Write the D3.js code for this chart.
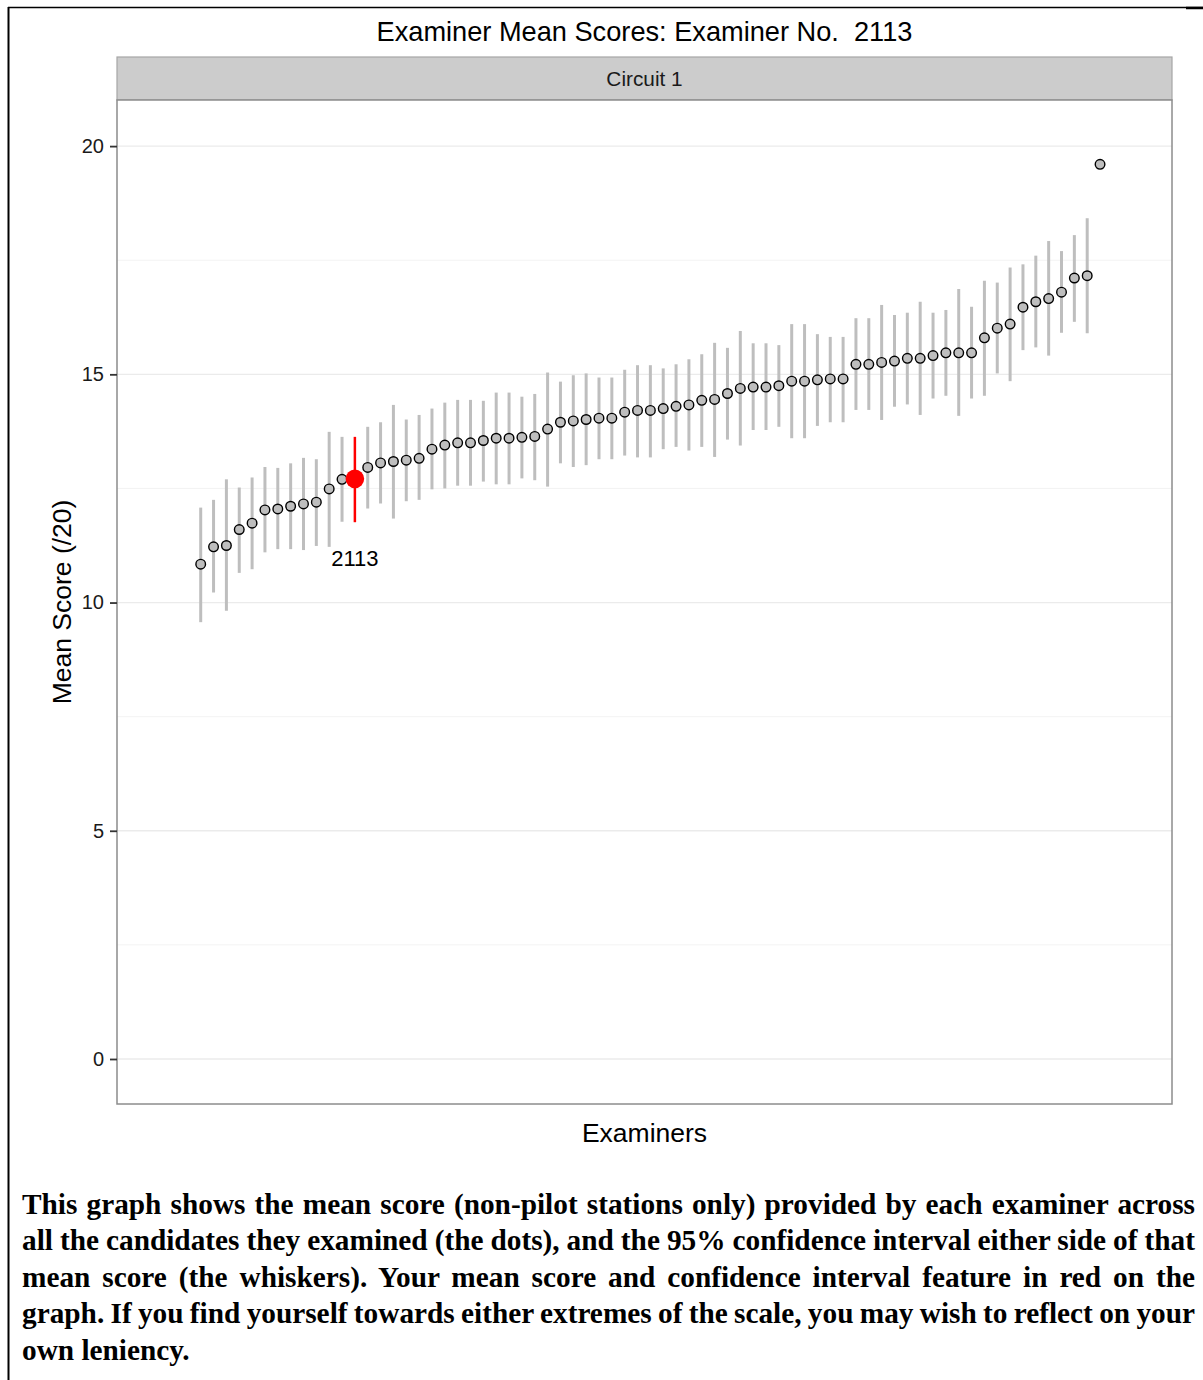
<!DOCTYPE html>
<html>
<head>
<meta charset="utf-8">
<script src="https://cdn.jsdelivr.net/npm/d3@7"></script>
<style>
  html, body { margin: 0; padding: 0; background: #fff; }
  #wrap { position: relative; width: 1203px; height: 1380px; overflow: hidden; }
  svg { position: absolute; left: 0; top: 0; }
  .para { position: absolute; left: 22px; width: 1173px; font-family: "Liberation Serif", "Times New Roman", serif;
          font-weight: bold; font-size: 29.3px; color: #000; white-space: nowrap; line-height: 36px;
          word-spacing: 0px; }
  .just { text-align: justify; text-align-last: justify; word-spacing: -3px; }
</style>
</head>
<body>
<div id="wrap"></div>
<script>
// ---- Data ----
const titleText = "Examiner Mean Scores: Examiner No.  2113";
const stripText = "Circuit 1";
const xTitle = "Examiners";
const yTitle = "Mean Score (/20)";
const highlightIndex = 12;
const highlightLabel = "2113";
const yTicks = [0, 5, 10, 15, 20];
const yMinor = [2.5, 7.5, 12.5, 17.5];

const means = [10.84, 11.22, 11.25, 11.60, 11.74, 12.03, 12.05, 12.11, 12.16, 12.20,
  12.49, 12.70, 12.71, 12.96, 13.06, 13.09, 13.12, 13.16, 13.36, 13.45,
  13.50, 13.50, 13.55, 13.60, 13.60, 13.62, 13.64, 13.80, 13.95, 13.98,
  14.01, 14.04, 14.04, 14.17, 14.21, 14.21, 14.25, 14.30, 14.33, 14.43,
  14.45, 14.58, 14.69, 14.72, 14.72, 14.75, 14.85, 14.85, 14.88, 14.90,
  14.90, 15.22, 15.22, 15.26, 15.29, 15.35, 15.35, 15.41, 15.47, 15.47,
  15.47, 15.80, 16.01, 16.10, 16.47, 16.59, 16.66, 16.80, 17.11, 17.16,
  19.60];
const lower = [9.57, 10.22, 9.82, 10.65, 10.73, 11.10, 11.17, 11.17, 11.15, 11.24,
  11.22, 11.77, 11.76, 12.06, 12.17, 11.84, 12.22, 12.25, 12.48, 12.50,
  12.56, 12.56, 12.65, 12.59, 12.59, 12.72, 12.68, 12.54, 13.05, 12.97,
  13.01, 13.14, 13.14, 13.22, 13.18, 13.18, 13.36, 13.41, 13.33, 13.41,
  13.19, 13.57, 13.44, 13.78, 13.78, 13.85, 13.60, 13.60, 13.87, 13.95,
  13.95, 14.22, 14.22, 14.00, 14.29, 14.34, 14.11, 14.47, 14.53, 14.09,
  14.47, 14.53, 15.02, 14.85, 15.53, 15.59, 15.41, 15.91, 16.15, 15.90,
  null];
const upper = [12.08, 12.25, 12.70, 12.52, 12.74, 12.97, 12.95, 13.05, 13.17, 13.14,
  13.74, 13.63, 13.63, 13.85, 13.95, 14.33, 14.01, 14.11, 14.25, 14.38,
  14.44, 14.44, 14.42, 14.60, 14.60, 14.51, 14.57, 15.04, 14.84, 14.98,
  15.02, 14.93, 14.93, 15.10, 15.20, 15.20, 15.13, 15.22, 15.33, 15.44,
  15.69, 15.58, 15.95, 15.68, 15.68, 15.64, 16.10, 16.10, 15.88, 15.82,
  15.82, 16.23, 16.23, 16.52, 16.30, 16.35, 16.59, 16.35, 16.41, 16.87,
  16.48, 17.05, 17.01, 17.34, 17.41, 17.60, 17.92, 17.70, 18.05, 18.42,
  null];

const paraLines = [
  "This graph shows the mean score (non-pilot stations only) provided by each examiner across",
  "all the candidates they examined (the dots), and the 95% confidence interval either side of that",
  "mean score (the whiskers). Your mean score and confidence interval feature in red on the",
  "graph. If you find yourself towards either extremes of the scale, you may wish to reflect on your",
  "own leniency."
];

// ---- Layout ----
const W = 1203, H = 1380;
const panel = { left: 117, right: 1172, top: 100, bottom: 1104 };
const strip = { top: 57, bottom: 100 };
const font = '"Liberation Sans", Arial, Helvetica, sans-serif';

const data = means.map((m, i) => ({ i, m, lo: lower[i], hi: upper[i] }));

const x = d3.scaleLinear().domain([-6.515, 75.6]).range([panel.left, panel.right]);
const y = d3.scaleLinear().domain([-0.986, 21.01]).range([panel.bottom, panel.top]);

const wrap = d3.select("#wrap");
const svg = wrap.append("svg").attr("width", W).attr("height", H);

// page frame
svg.append("line").attr("x1", 8).attr("x2", W).attr("y1", 7.5).attr("y2", 7.5)
  .attr("stroke", "#000").attr("stroke-width", 1.5);
svg.append("line").attr("x1", 1186).attr("x2", W).attr("y1", 8).attr("y2", 8)
  .attr("stroke", "#000").attr("stroke-width", 2.5);
svg.append("line").attr("x1", 8.5).attr("x2", 8.5).attr("y1", 7).attr("y2", H)
  .attr("stroke", "#000").attr("stroke-width", 2);

// title
svg.append("text").attr("x", (panel.left + panel.right) / 2).attr("y", 41)
  .attr("text-anchor", "middle").attr("font-family", font).attr("font-size", 27.2)
  .attr("fill", "#000").style("white-space", "pre").text(titleText);

// strip
svg.append("rect").attr("x", panel.left).attr("y", strip.top)
  .attr("width", panel.right - panel.left).attr("height", strip.bottom - strip.top)
  .attr("fill", "#CCCCCC").attr("stroke", "#A6A6A6").attr("stroke-width", 1.2);
svg.append("text").attr("x", (panel.left + panel.right) / 2).attr("y", 86)
  .attr("text-anchor", "middle").attr("font-family", font).attr("font-size", 20.8)
  .attr("fill", "#1a1a1a").text(stripText);

// panel background
svg.append("rect").attr("x", panel.left).attr("y", panel.top)
  .attr("width", panel.right - panel.left).attr("height", panel.bottom - panel.top)
  .attr("fill", "#fff");

// gridlines
svg.append("g").selectAll("line").data(yMinor).join("line")
  .attr("x1", panel.left).attr("x2", panel.right)
  .attr("y1", d => y(d)).attr("y2", d => y(d))
  .attr("stroke", "#F3F3F3").attr("stroke-width", 1);
svg.append("g").selectAll("line").data(yTicks).join("line")
  .attr("x1", panel.left).attr("x2", panel.right)
  .attr("y1", d => y(d)).attr("y2", d => y(d))
  .attr("stroke", "#EBEBEB").attr("stroke-width", 1.3);

// whiskers
const wd = data.filter(d => d.lo != null && d.i !== highlightIndex);
svg.append("g").selectAll("line").data(wd).join("line")
  .attr("x1", d => x(d.i)).attr("x2", d => x(d.i))
  .attr("y1", d => y(d.lo)).attr("y2", d => y(d.hi))
  .attr("stroke", "#BEBEBE").attr("stroke-width", 3);

// points
svg.append("g").selectAll("circle").data(data.filter(d => d.i !== highlightIndex)).join("circle")
  .attr("cx", d => x(d.i)).attr("cy", d => y(d.m)).attr("r", 4.8)
  .attr("fill", "#BEBEBE").attr("stroke", "#000").attr("stroke-width", 1.4);

// highlighted examiner
const hd = data[highlightIndex];
svg.append("line").attr("x1", x(hd.i)).attr("x2", x(hd.i))
  .attr("y1", y(hd.lo)).attr("y2", y(hd.hi))
  .attr("stroke", "#FF0000").attr("stroke-width", 2.5);
svg.append("circle").attr("cx", x(hd.i)).attr("cy", y(hd.m)).attr("r", 9.3)
  .attr("fill", "#FF0000");
svg.append("text").attr("x", x(hd.i)).attr("y", 566)
  .attr("text-anchor", "middle").attr("font-family", font).attr("font-size", 22)
  .attr("fill", "#000").text(highlightLabel);

// panel border
svg.append("rect").attr("x", panel.left).attr("y", panel.top)
  .attr("width", panel.right - panel.left).attr("height", panel.bottom - panel.top)
  .attr("fill", "none").attr("stroke", "#8C8C8C").attr("stroke-width", 1.5);

// y axis
const yAxis = svg.append("g").attr("transform", `translate(${panel.left},0)`)
  .call(d3.axisLeft(y).tickValues(yTicks).tickSize(7).tickPadding(6));
yAxis.select(".domain").remove();
yAxis.selectAll(".tick line").attr("stroke", "#333").attr("stroke-width", 1.8);
yAxis.selectAll(".tick text").attr("font-family", font).attr("font-size", 20)
  .attr("fill", "#1a1a1a");

// axis titles
svg.append("text").attr("x", (panel.left + panel.right) / 2).attr("y", 1142)
  .attr("text-anchor", "middle").attr("font-family", font).attr("font-size", 26.5)
  .attr("fill", "#000").text(xTitle);
svg.append("text").attr("transform", `translate(71,${(panel.top + panel.bottom) / 2}) rotate(-90)`)
  .attr("text-anchor", "middle").attr("font-family", font).attr("font-size", 26.5)
  .attr("fill", "#000").text(yTitle);

// paragraph
paraLines.forEach((t, k) => {
  wrap.append("div").attr("class", "para" + (k < paraLines.length - 1 ? " just" : ""))
    .style("top", (1186 + k * 36.4) + "px").text(t);
});
</script>
</body>
</html>
